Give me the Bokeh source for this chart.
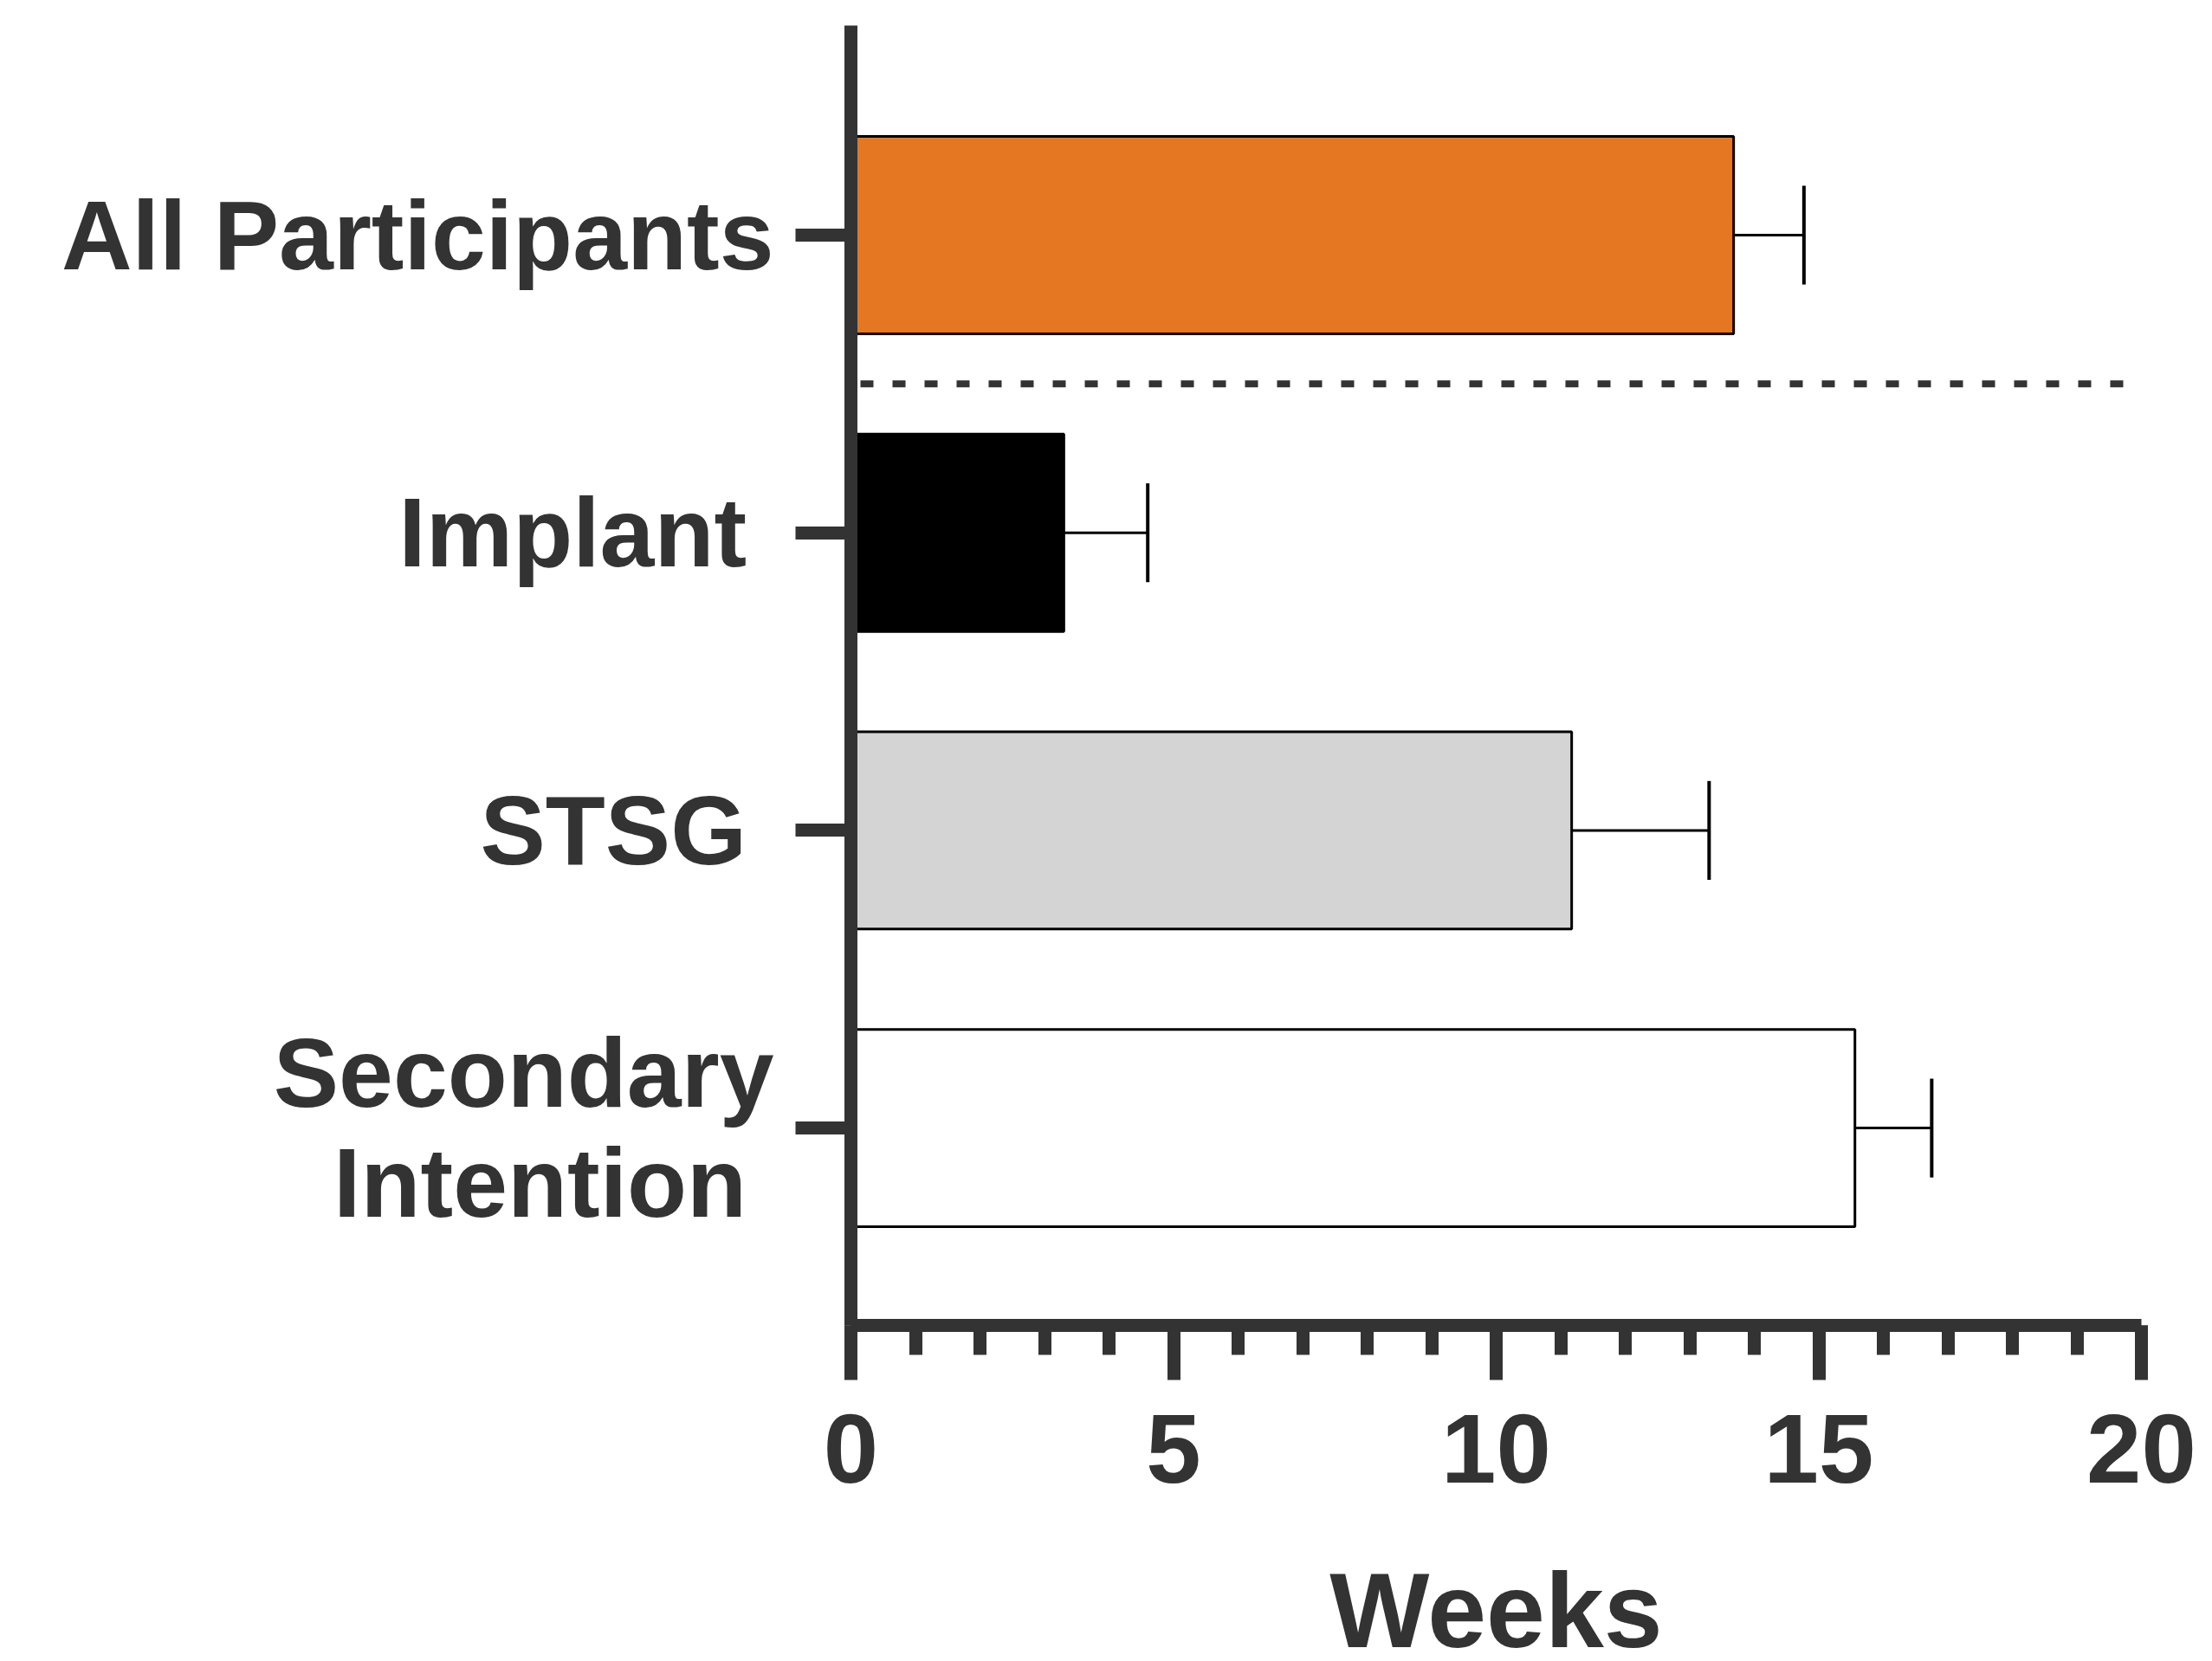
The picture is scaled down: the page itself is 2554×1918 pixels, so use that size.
from bokeh.plotting import figure
from bokeh.models import Range1d, FixedTicker, SingleIntervalTicker, Label
from bokeh.embed import file_html
from bokeh.resources import INLINE

# ---- data ----
categories = ["All Participants", "Implant\u00a0", "STSG\u00a0", "Secondary\nIntention\u00a0"]
means = [13.68, 3.30, 11.17, 15.56]
sem = [1.09, 1.30, 2.13, 1.19]
bar_colors = ["#E67722", "#000000", "#D4D4D4", "#FFFFFF"]
x_label = "Weeks"
x_min, x_max, x_tick_interval = 0, 20, 5

pos = list(range(len(categories)))
upper = [m + e for m, e in zip(means, sem)]

TXT = "#333333"
FONT = "Liberation Sans"

# The frame covers the whole canvas; axes are pinned inside it with fixed_location
# and limited with bounds so that their labels are never clipped.
Y_TOP, Y_AXIS = -0.704, 3.663
W, H = 2554, 1918
PX_X = 74.5      # pixels per week
PX_Y = 343.7     # pixels per category
X0_PX, Y0_PX = 982, 271   # where x=0 and the first category sit

x_range = Range1d(x_min - X0_PX / PX_X, x_min + (W - X0_PX) / PX_X)
y_range = Range1d((H - Y0_PX) / PX_Y, -Y0_PX / PX_Y)

p = figure(width=W, height=H, output_backend="svg", toolbar_location=None,
           x_range=x_range, y_range=y_range,
           min_border_left=0, min_border_right=0, min_border_top=0,
           min_border_bottom=0)
p.outline_line_color = None
p.background_fill_color = "white"
p.border_fill_color = "white"
p.xgrid.visible = False
p.ygrid.visible = False

BAR_H = 0.663
CAP_H = 0.166

p.hbar(y=pos, left=0, right=means, height=BAR_H, fill_color=bar_colors,
       line_color="black", line_width=3)
p.segment(x0=means, y0=pos, x1=upper, y1=pos, line_color="black", line_width=3)
p.segment(x0=upper, y0=[y - CAP_H for y in pos], x1=upper, y1=[y + CAP_H for y in pos],
          line_color="black", line_width=4)

# dotted divider between overall and subgroups
p.segment(x0=[x_min], y0=[0.5], x1=[19.75], y1=[0.5], line_color=TXT, line_width=8,
          line_dash="15 22", line_dash_offset=26)

# x axis
xa = p.xaxis[0]
xa.fixed_location = Y_AXIS
xa.bounds = (x_min, x_max)
xa.ticker = SingleIntervalTicker(interval=x_tick_interval, num_minor_ticks=5)
xa.axis_line_width = 15
xa.axis_line_color = TXT
xa.major_tick_line_width = 15
xa.major_tick_line_color = TXT
xa.minor_tick_line_width = 15
xa.minor_tick_line_color = TXT
xa.major_tick_in = 0
xa.major_tick_out = 63
xa.minor_tick_in = 0
xa.minor_tick_out = 34
xa.major_label_text_font = FONT
xa.major_label_text_font_style = "bold"
xa.major_label_text_font_size = "114px"
xa.major_label_text_color = TXT
xa.major_label_standoff = 41

# y axis
ya = p.yaxis[0]
ya.fixed_location = x_min
ya.bounds = (Y_TOP, Y_AXIS)
ya.ticker = FixedTicker(ticks=pos, minor_ticks=[])
ya.major_label_overrides = {i: c for i, c in zip(pos, categories)}
ya.axis_line_width = 15
ya.axis_line_color = TXT
ya.major_tick_line_width = 15
ya.major_tick_line_color = TXT
ya.minor_tick_line_color = None
ya.major_tick_in = 0
ya.major_tick_out = 64
ya.major_label_text_font = FONT
ya.major_label_text_font_style = "bold"
ya.major_label_text_font_size = "113px"
ya.major_label_text_color = TXT
ya.major_label_text_line_height = 1.01
ya.major_label_standoff = 25

# x axis title
p.add_layout(Label(x=(x_min + x_max) / 2, y=127, x_units="data", y_units="screen",
                   text=x_label, text_align="center", text_baseline="top",
                   text_font=FONT, text_font_style="bold", text_font_size="122px",
                   text_color=TXT))

open("out.html", "w").write(file_html(p, INLINE))
